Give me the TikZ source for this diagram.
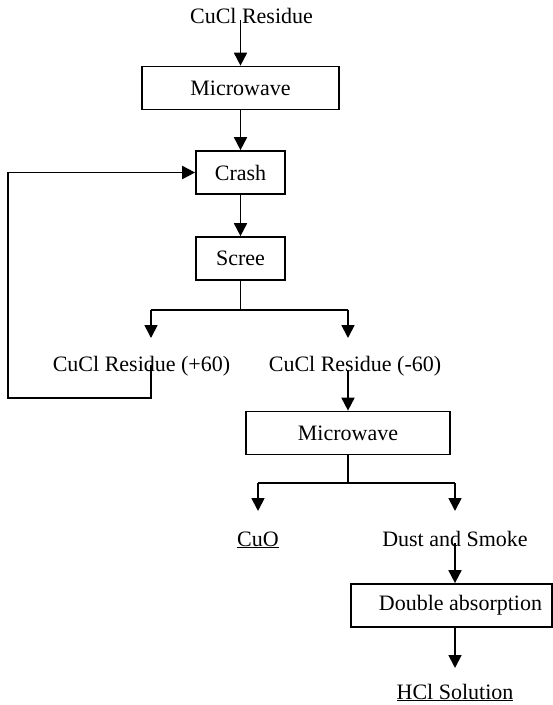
\documentclass[tikz,border=0pt]{standalone}
\usepackage{fontspec}
\setmainfont{Liberation Serif}
\usetikzlibrary{arrows.meta}
\begin{document}
\begin{tikzpicture}[x=1pt,y=-1pt,
  every node/.style={font=\fontsize{22pt}{26pt}\selectfont},
  procbox/.style={draw,line width=1.7pt,inner sep=0pt,minimum height=43pt},
  lbl/.style={inner sep=0pt,anchor=base},
  arr/.style={line width=1.8pt,-{Triangle[length=13pt,width=13pt]}},
  ln/.style={line width=1.8pt}]
\useasboundingbox (0,0) rectangle (553,705);

% process boxes
\node[procbox,minimum width=197pt] (m1) at (240.5,88) {Microwave};
\node[procbox,minimum width=89pt] (cr) at (240.5,172.5) {Crash};
\node[procbox,minimum width=89pt] (sc) at (240.5,258.5) {Scree};
\node[procbox,minimum width=204pt] (m2) at (348,433) {Microwave};
\node[procbox,minimum width=201pt] (da) at (451.5,605.5) {\hspace*{18pt}Double absorption};

% material labels
\node[lbl] (t0)  at (251.5,23) {CuCl Residue};
\node[lbl] (p60) at (141.5,371) {CuCl Residue (+60)};
\node[lbl] (m60) at (355,371) {CuCl Residue (-60)};
\node[lbl] (cuo) at (258,546) {\underline{CuO}};
\node[lbl] (dust) at (455,546) {Dust and Smoke};
\node[lbl] (hcl) at (455,699) {\underline{HCl Solution}};

% branch points and arrow ends
\coordinate (bL) at (151,310);
\coordinate (bR) at (348,310);
\coordinate (tL) at (151,338);
\coordinate (tR) at (348,338);
\coordinate (cL) at (258,483);
\coordinate (cR) at (455,483);
\coordinate (uL) at (258,511);
\coordinate (uR) at (455,511);
\coordinate (lpB) at (8,398);
\coordinate (hT) at (455,668);

% main line
\draw[arr] ([yshift=3pt]t0.base -| m1.north) -- (m1.north);
\draw[arr] (m1.south) -- (cr.north);
\draw[arr] (cr.south) -- (sc.north);

% screening split
\draw[ln] (sc.south) |- (bL);
\draw[ln] (sc.south) |- (bR);
\draw[arr] (bL) -- (tL);
\draw[arr] (bR) -- (tR);

% coarse fraction returns to crushing
\draw[arr] ([yshift=6pt]p60.base -| bL) |- (lpB) |- (cr.west);

% fine fraction
\draw[arr] ([yshift=1pt]m60.base -| m2.north) -- (m2.north);
\draw[ln] (m2.south) |- (cL);
\draw[ln] (m2.south) |- (cR);
\draw[arr] (cL) -- (uL);
\draw[arr] (cR) -- (uR);

% gas treatment
\draw[arr] ([yshift=3pt]dust.base) -- (dust.base |- da.north);
\draw[arr] (hT |- da.south) -- (hT);
\end{tikzpicture}
\end{document}
